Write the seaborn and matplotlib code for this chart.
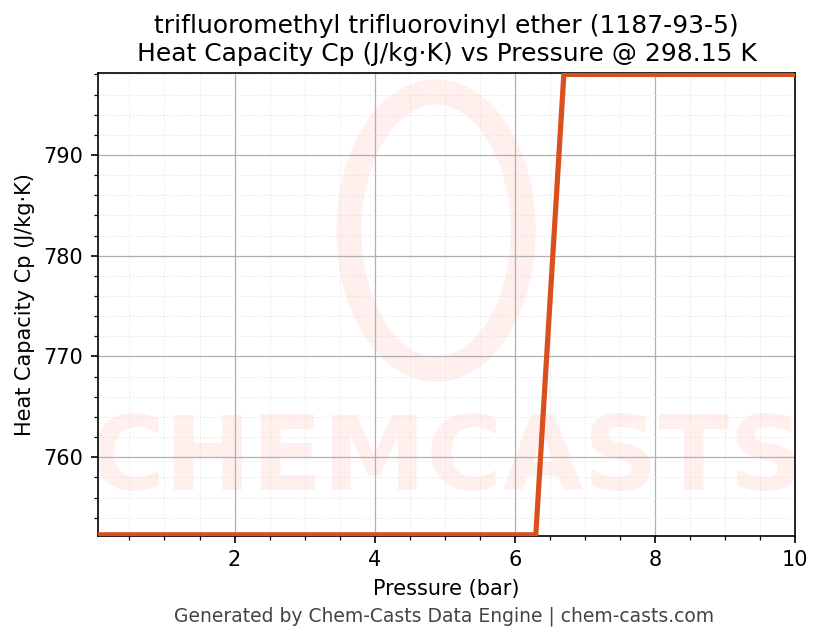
import matplotlib
matplotlib.use('Agg')
import matplotlib.pyplot as plt
import seaborn as sns
from matplotlib.patches import Ellipse
from matplotlib.ticker import AutoMinorLocator

pressure = [0.05, 1.0, 2.0, 3.0, 4.0, 5.0, 6.0, 6.3, 6.7, 7.0, 8.0, 9.0, 10.0]
cp = [752.3, 752.3, 752.3, 752.3, 752.3, 752.3, 752.3, 752.3, 798.0, 798.0, 798.0, 798.0, 798.0]

sns.set_style('white')
plt.rcParams['font.family'] = ['DejaVu Sans']

fig, ax = plt.subplots(figsize=(823 / 150, 644 / 150), dpi=150)
fig.subplots_adjust(left=0.119, right=0.966, top=0.886, bottom=0.168)

# watermark
ax.add_patch(Ellipse((0.485, 0.66), 0.25, 0.6, transform=ax.transAxes,
                     fill=False, lw=12, ec='#fff0ee', zorder=0))
t = ax.text(0.5, 0.16, 'CHEMCASTS', transform=ax.transAxes, ha='center', va='center',
            fontsize=50, fontweight='bold', color='#fff0ee', zorder=0)
t.set_clip_on(True)

sns.lineplot(x=pressure, y=cp, ax=ax, color='#d9501e', lw=2.5, zorder=3)

ax.set_xlim(0.05, 10)
ax.set_ylim(752.2, 798.1)
ax.set_xticks([2, 4, 6, 8, 10])
ax.set_yticks([760, 770, 780, 790])
ax.xaxis.set_minor_locator(AutoMinorLocator(4))
ax.yaxis.set_minor_locator(AutoMinorLocator(5))
ax.grid(which='major', color='#b0b0b0', lw=0.6)
ax.grid(which='minor', color='#dddddd', lw=0.4, ls=':')
ax.tick_params(which='both', direction='out', left=True, bottom=True, colors='black')
ax.tick_params(which='minor', length=2)
for s in ax.spines.values():
    s.set_color('black')
    s.set_linewidth(0.8)

ax.set_xlabel('Pressure (bar)', color='black')
ax.set_ylabel('Heat Capacity Cp (J/kg·K)', color='black')
ax.set_title('trifluoromethyl trifluorovinyl ether (1187-93-5)\n'
             'Heat Capacity Cp (J/kg·K) vs Pressure @ 298.15 K', fontsize=12, color='black')
fig.text(0.54, 0.035, 'Generated by Chem-Casts Data Engine | chem-casts.com',
         ha='center', fontsize=9, color='#444444')

fig.savefig('out.png', dpi=150)
